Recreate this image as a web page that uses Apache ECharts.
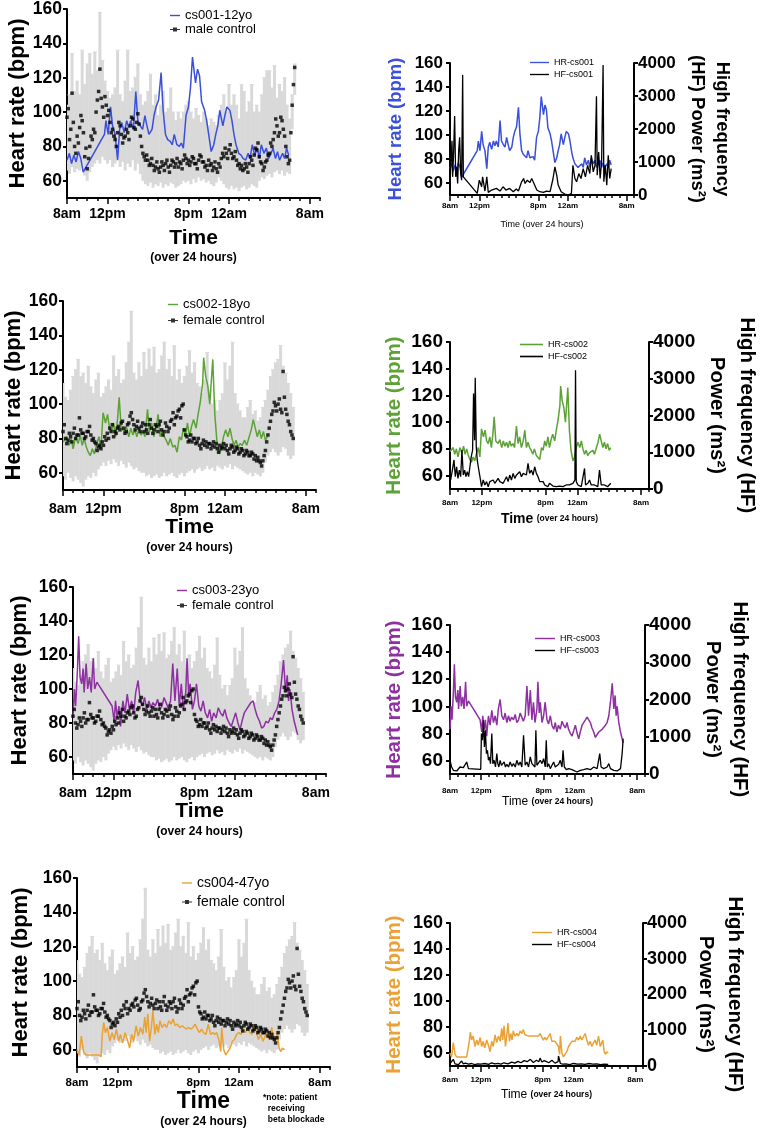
<!DOCTYPE html>
<html>
<head>
<meta charset="utf-8">
<script src="https://cdn.jsdelivr.net/npm/echarts@6/dist/echarts.min.js"></script>
<style>html,body{margin:0;padding:0;background:#fff}#chart{width:765px;height:1136px}</style>
</head>
<body>
<div id="chart"></div>
<script>
var FONT = 'Liberation Sans, Arial, sans-serif';

// axis ticks
var timeTicks = [0, 4, 12, 16, 24];
var timeTickLabels = ['8am', '12pm', '8pm', '12am', '8am'];
var hrTicks = [60, 80, 100, 120, 140, 160];
var meanStep = 0.125; // hours between control means, from 8am
var barStep = 0.25;   // hours between control error bars, from 8am

// male control mean, bpm
var maleMean = [
  97, 102, 84, 90, 111, 94, 80, 76,
  86, 82, 91, 98, 95, 88, 74, 79,
  67, 73, 80, 86, 84, 90, 88, 100,
  107, 112, 125, 108, 103, 97, 109, 104,
  98, 101, 94, 88, 90, 86, 84, 80,
  88, 94, 92, 87, 82, 85, 86, 90,
  88, 84, 92, 97, 96, 91, 90, 94,
  99, 93, 86, 80, 76, 74, 72, 75,
  72, 69, 70, 73, 69, 66, 68, 71,
  67, 65, 68, 71, 69, 66, 70, 72,
  68, 65, 69, 72, 71, 68, 70, 73,
  68, 71, 70, 67, 72, 75, 73, 70,
  72, 69, 71, 74, 73, 70, 70, 67,
  72, 75, 74, 71, 71, 68, 69, 66,
  72, 69, 70, 66, 68, 71, 67, 65,
  70, 68, 73, 76, 74, 79, 76, 73,
  78, 81, 76, 73, 74, 77, 72, 69,
  70, 67, 69, 66, 67, 70, 68, 65,
  70, 74, 72, 69, 75, 79, 78, 82,
  74, 71, 70, 66, 68, 71, 72, 75,
  76, 82, 80, 84, 88, 96, 92, 86,
  88, 97, 95, 90, 86, 80, 74, 70,
  72, 88, 104, 116, 126
];
// male control error bar low / high, bpm
var maleLow = [
  66, 64, 68, 65, 67, 66, 70, 63,
  60, 65, 68, 70, 72, 70, 74, 72,
  70, 72, 68, 70, 73, 68, 71, 66,
  70, 68, 72, 66, 70, 64, 60, 58,
  57, 59, 56, 58, 57, 59, 56, 58,
  57, 59, 58, 56, 57, 58, 60, 59,
  60, 58, 61, 59, 62, 60, 61, 59,
  60, 58, 57, 59, 62, 60, 58, 56,
  55, 57, 55, 56, 54, 56, 57, 55,
  56, 58, 57, 56, 60, 62, 61, 63,
  64, 62, 65, 66, 64, 66, 63, 65,
  64, 90, 110
];
var maleHigh = [
  104, 110, 134, 112, 118, 110, 136, 116,
  128, 134, 122, 135, 124, 158, 130, 118,
  112, 108, 110, 114, 136, 110, 106, 118,
  136, 112, 114, 120, 128, 110, 104, 106,
  112, 122, 104, 110, 98, 104, 112, 100,
  102, 114, 100, 95, 100, 96, 100, 104,
  106, 100, 96, 102, 98, 94, 100, 96,
  92, 96, 94, 92, 98, 104, 110, 100,
  116, 104, 110, 104, 96, 116, 112, 100,
  106, 116, 100, 104, 100, 110, 120, 124,
  124, 114, 127, 108, 116, 112, 120, 104,
  96, 110, 128
];

// female control mean, bpm
var femaleMean = [
  84, 88, 80, 77, 79, 83, 81, 78,
  83, 86, 80, 82, 82, 92, 85, 83,
  83, 80, 81, 84, 84, 87, 82, 79,
  80, 78, 77, 73, 75, 76, 74, 78,
  76, 81, 79, 83, 80, 86, 84, 88,
  81, 84, 83, 86, 87, 85, 89, 90,
  86, 83, 84, 88, 89, 93, 95, 91,
  88, 85, 87, 90, 86, 84, 87, 89,
  84, 88, 85, 83, 88, 91, 86, 83,
  85, 88, 87, 84, 88, 90, 85, 82,
  84, 89, 87, 84, 86, 90, 91, 95,
  88, 92, 93, 96, 97, 92, 99, 100,
  85, 82, 81, 78, 79, 82, 78, 80,
  80, 77, 78, 80, 76, 74, 77, 79,
  76, 78, 75, 77, 77, 74, 76, 78,
  75, 77, 74, 72, 76, 74, 75, 77,
  74, 76, 73, 71, 74, 76, 75, 72,
  73, 75, 74, 71, 72, 74, 73, 70,
  71, 73, 72, 70, 70, 72, 71, 68,
  70, 67, 69, 67, 66, 64, 67, 70,
  73, 78, 82, 86, 90, 94, 96, 101,
  99, 96, 100, 103, 97, 95, 119, 104,
  97, 94, 90, 88, 84, 82, 80
];
// female control error bar low / high, bpm
var femaleLow = [
  58, 56, 60, 57, 55, 58, 56, 54,
  52, 56, 58, 57, 60, 58, 62, 64,
  66, 64, 67, 65, 68, 66, 64, 67,
  65, 63, 66, 64, 62, 63, 61, 60,
  60, 58, 59, 57, 58, 59, 57, 58,
  60, 58, 59, 60, 58, 57, 59, 60,
  58, 60, 61, 62, 60, 62, 63, 61,
  62, 64, 62, 63, 61, 64, 63, 62,
  64, 63, 65, 62, 64, 63, 62, 61,
  60, 59, 60, 58, 60, 59, 58, 60,
  66, 70, 72, 74, 72, 70, 72, 75,
  74, 70, 68, 70
];
var femaleHigh = [
  112, 104, 102, 108, 116, 120, 126, 116,
  118, 112, 122, 110, 106, 114, 118, 104,
  106, 110, 114, 108, 128, 116, 120, 112,
  114, 124, 136, 154, 118, 114, 124, 116,
  130, 120, 132, 122, 133, 118, 120, 128,
  136, 120, 126, 116, 134, 114, 120, 112,
  116, 122, 131, 118, 124, 112, 110, 106,
  114, 130, 108, 100, 102, 96, 102, 106,
  124, 114, 122, 136, 106, 100, 96, 92,
  92, 98, 102, 94, 96, 90, 92, 98,
  102, 108, 116, 120, 124, 126, 134, 122,
  118, 112, 106, 98
];

// patients: heart rate [hours from 8am, bpm]
var hr001 = [[0,72],[0.23,76],[0.45,70],[0.68,75],[0.9,71],[1.13,77],[1.36,73],[1.6,65],
  [3.7,87],[3.85,95],[4.07,87],[4.3,103],[4.5,92],[4.75,87],[5.0,72],[5.2,90],[5.4,94],[5.66,88],[5.9,95],[6.1,91],[6.3,95],[6.56,90],[6.8,112],[7.0,95],[7.24,92],[7.47,90],[7.7,98],[7.9,92],[8.1,87],[8.4,90],[8.6,98],[8.8,103],[9.05,107],[9.3,123],[9.5,101],[9.73,87],[9.95,84],[10.2,83],[10.4,81],[10.6,87],[10.86,81],[11.1,80],[11.3,82],[11.5,79],[11.76,98],[12.0,103],[12.2,114],[12.4,132],[12.7,117],[12.9,125],[13.1,121],[13.3,106],[13.6,101],[13.8,95],[14.0,87],[14.25,77],[14.5,81],[14.7,87],[14.9,92],[15.1,101],[15.4,92],[15.6,98],[15.8,103],[16.1,101],[16.3,95],[16.5,87],[16.7,81],[16.97,76],[17.2,75],[17.4,73],[17.65,72],[17.9,76],[18.1,73],[18.3,81],[18.55,75],[18.8,79],[19.0,73],[19.2,81],[19.46,76],[19.7,79],[19.9,73],[20.1,75],[20.36,79],[20.6,73],[20.8,77],[21.0,72],[21.3,76],[21.5,73],[21.7,79],[21.9,75]];
var hr002 = [[0,78],[0.2,79],[0.4,81],[0.6,76],[0.8,80],[1.0,74],[1.25,81],[1.5,77],[1.7,82],[1.9,76],[2.1,80],[2.3,75],[2.5,72],[2.7,70],[2.9,74],[3.1,71],[3.3,76],[3.55,81],[3.75,74],[3.96,95],[4.2,89],[4.4,94],[4.6,86],[4.8,84],[5.0,89],[5.2,81],[5.4,92],[5.55,104],[5.75,86],[6.05,84],[6.26,87],[6.5,81],[6.7,86],[6.9,82],[7.1,85],[7.3,81],[7.5,86],[7.7,82],[7.9,84],[8.1,81],[8.35,97],[8.55,84],[8.75,89],[8.97,81],[9.2,86],[9.4,94],[9.6,81],[9.8,85],[10.0,81],[10.2,79],[10.4,76],[10.6,80],[10.85,75],[11.06,76],[11.27,72],[11.5,81],[11.7,79],[11.9,86],[12.1,82],[12.3,89],[12.5,81],[12.7,87],[12.9,91],[13.15,86],[13.35,94],[13.56,101],[13.8,112],[13.9,127],[14.1,116],[14.3,111],[14.5,100],[14.8,126],[15.0,94],[15.2,79],[15.45,71],[15.65,74],[15.86,81],[16.07,85],[16.3,81],[16.5,86],[16.7,80],[16.9,76],[17.1,79],[17.3,75],[17.5,77],[17.7,76],[17.95,79],[18.15,76],[18.4,81],[18.6,85],[18.8,91],[19.0,86],[19.2,81],[19.4,85],[19.6,80],[19.8,84],[20.0,79],[20.2,81]];
var hr003 = [[0,83],[0.13,100],[0.26,90],[0.43,110],[0.56,131],[0.7,107],[0.86,103],[1.0,112],[1.1,98],[1.3,115],[1.45,100],[1.63,107],[1.8,98],[2.0,118],[2.14,100],[2.36,104],[3.86,90],[4.07,81],[4.2,93],[4.37,83],[4.54,90],[4.7,78],[4.93,93],[5.14,86],[5.36,97],[5.57,88],[5.79,93],[6.0,86],[6.2,98],[6.43,105],[6.64,93],[6.86,90],[7.07,95],[7.29,88],[7.5,93],[7.7,89],[7.9,92],[8.14,90],[8.36,94],[8.57,88],[8.79,90],[9.0,95],[9.2,92],[9.4,89],[9.64,93],[9.86,115],[10.07,93],[10.3,112],[10.5,90],[10.7,103],[10.9,88],[11.14,98],[11.27,118],[11.44,95],[11.57,103],[11.8,88],[12.0,93],[12.2,103],[12.43,90],[12.64,87],[12.86,93],[13.07,86],[13.3,83],[13.5,88],[13.7,81],[13.9,86],[14.14,83],[14.36,89],[14.57,86],[14.8,84],[15.0,88],[15.2,83],[15.43,80],[15.64,78],[15.86,82],[16.07,86],[16.3,80],[16.5,76],[16.7,81],[16.93,86],[17.14,88],[17.36,90],[17.57,92],[17.8,93],[18.0,88],[18.2,84],[18.43,81],[18.64,77],[18.86,78],[19.07,81],[19.29,80],[19.5,83],[19.7,82],[19.93,86],[20.14,88],[20.36,93],[20.57,103],[20.8,117],[20.9,108],[21.0,98],[21.17,108],[21.3,93],[21.43,100],[21.64,88],[21.86,81],[22.07,76],[22.2,73]];
var hr004 = [[0,60],[0.2,57],[0.43,68],[0.65,59],[0.86,57],[1.3,57],[1.73,57],[2.16,57],[2.38,56],[2.5,69],[2.64,76],[2.8,70],[3.0,73],[3.24,65],[3.46,70],[3.67,66],[3.9,72],[4.1,65],[4.3,69],[4.5,64],[4.76,70],[4.97,66],[5.2,61],[5.4,69],[5.6,65],[5.84,74],[6.05,68],[6.27,73],[6.5,69],[6.7,79],[6.83,70],[7.0,81],[7.18,65],[7.35,73],[7.5,83],[7.7,69],[7.87,75],[8.04,70],[8.2,77],[8.4,73],[8.65,75],[8.86,73],[9.08,77],[9.3,75],[9.5,78],[9.7,74],[9.9,75],[10.16,73],[10.4,74],[10.6,73],[10.8,72],[11.0,73],[11.24,72],[11.46,73],[11.67,75],[11.9,72],[12.1,70],[12.3,72],[12.5,70],[12.75,69],[12.97,75],[13.2,69],[13.4,70],[13.6,69],[13.8,70],[14.05,65],[14.2,59],[14.3,73],[14.5,60],[14.7,57],[14.9,59],[15.13,61],[15.35,65],[15.56,66],[15.78,69],[16.0,70],[16.2,69],[16.43,72],[16.65,70],[16.86,73],[17.08,70],[17.3,69],[17.5,75],[17.73,70],[17.94,66],[18.16,69],[18.37,65],[18.6,68],[18.8,70],[19.0,66],[19.24,73],[19.46,65],[19.67,66],[19.8,70],[19.97,61],[20.15,59],[20.3,61],[20.5,60]];

// patients: high frequency power [hours from 8am, ms2]
var hf001 = [[0,350],[0.14,1050],[0.27,1645],[0.36,550],[0.5,1350],[0.63,2390],[0.77,550],[0.9,850],[1.04,350],[1.18,1350],[1.31,1750],[1.45,650],[1.58,450],[1.72,3640],[1.81,550],[3.7,50],[3.98,450],[4.3,250],[4.43,550],[4.75,120],[5.0,550],[5.2,80],[5.66,150],[5.9,100],[6.3,200],[6.8,120],[7.2,250],[7.6,150],[8.1,200],[8.6,100],[9.0,180],[9.3,120],[9.73,400],[10.0,500],[10.2,350],[10.5,450],[10.86,380],[11.1,500],[11.5,300],[11.8,150],[12.2,100],[12.7,80],[13.1,120],[13.6,100],[14.0,500],[14.25,850],[14.5,600],[14.7,300],[15.1,100],[15.6,30],[16.1,0],[16.5,50],[16.7,900],[16.97,500],[17.2,400],[17.5,650],[17.8,500],[18.1,800],[18.4,550],[18.7,900],[19.0,650],[19.2,1200],[19.46,700],[19.7,900],[19.9,2990],[20.0,600],[20.2,1300],[20.4,500],[20.6,1000],[20.8,3940],[20.9,400],[21.1,900],[21.3,300],[21.5,1200],[21.7,500],[21.9,800]];
var hf002 = [[0.08,245],[0.3,515],[0.5,790],[0.67,335],[0.83,605],[1.0,290],[1.17,515],[1.34,335],[1.5,1060],[1.67,380],[1.84,515],[2.0,335],[2.17,470],[2.34,335],[2.5,605],[2.67,880],[2.84,1060],[2.96,2600],[3.09,1330],[3.17,3030],[3.3,1150],[3.42,790],[3.55,605],[3.76,335],[3.96,63],[4.17,245],[4.38,110],[4.59,200],[4.8,63],[5.0,200],[5.22,155],[5.43,245],[5.63,155],[5.84,200],[6.05,290],[6.26,200],[6.47,245],[6.68,155],[6.89,245],[7.1,335],[7.3,200],[7.5,380],[7.72,245],[7.93,425],[8.14,290],[8.35,380],[8.56,335],[8.76,470],[8.97,335],[9.2,425],[9.4,470],[9.6,380],[9.8,700],[10.0,425],[10.23,515],[10.43,380],[10.64,605],[10.85,425],[11.06,335],[11.27,200],[11.48,155],[11.7,200],[11.9,110],[12.1,155],[12.3,63],[12.5,155],[12.73,110],[12.94,80],[13.35,63],[13.77,80],[14.19,63],[14.6,110],[15.0,110],[15.44,155],[15.69,245],[15.77,3230],[15.86,200],[16.07,110],[16.28,80],[16.49,63],[16.7,110],[16.9,560],[17.03,110],[17.32,155],[17.53,245],[17.74,110],[17.95,63],[18.15,110],[18.36,155],[18.57,63],[18.78,515],[19.0,110],[19.2,80],[19.4,110],[19.6,155],[19.8,63],[20.0,110],[20.2,155]];
var hf003 = [[0,368],[0.21,188],[0.43,99],[0.64,54],[0.86,81],[1.07,117],[1.29,188],[1.5,144],[1.71,170],[1.93,206],[2.14,323],[2.36,144],[3.94,125],[4.03,1085],[4.16,906],[4.29,1444],[4.41,726],[4.54,1175],[4.67,547],[4.8,637],[4.93,368],[5.06,457],[5.19,278],[5.36,1085],[5.49,278],[5.66,368],[5.83,188],[6.0,547],[6.13,278],[6.26,188],[6.43,368],[6.6,233],[6.77,188],[6.94,323],[7.11,188],[7.29,260],[7.5,188],[7.71,323],[7.93,206],[8.14,278],[8.36,188],[8.57,368],[8.79,233],[9.0,323],[9.21,188],[9.43,1040],[9.64,233],[9.86,323],[10.07,188],[10.29,457],[10.5,278],[10.71,233],[10.89,188],[11.01,1175],[11.14,233],[11.36,188],[11.57,368],[11.79,278],[12.0,413],[12.21,188],[12.34,906],[12.47,188],[12.64,278],[12.86,144],[13.07,233],[13.29,323],[13.5,188],[13.71,144],[13.93,260],[14.14,368],[14.36,188],[14.49,637],[14.66,188],[14.92,117],[15.21,144],[15.43,99],[15.64,117],[15.86,81],[16.29,54],[16.71,99],[17.14,117],[17.57,144],[18.0,117],[18.43,188],[18.86,144],[19.2,547],[19.37,188],[19.71,144],[20.14,188],[20.36,278],[20.57,144],[21.0,99],[21.43,81],[21.64,54],[21.86,144],[22.07,547],[22.2,950]];
var hf004 = [[0,70],[0.2,50],[0.43,186],[0.65,60],[0.86,80],[1.1,40],[1.5,140],[1.73,60],[2.0,80],[2.4,50],[2.8,70],[3.2,40],[3.6,60],[4.0,50],[4.5,70],[5.0,45],[5.4,90],[5.8,60],[6.2,75],[6.6,50],[7.0,90],[7.5,60],[8.0,110],[8.4,80],[8.8,130],[9.2,90],[9.6,150],[10.0,120],[10.4,186],[10.8,100],[11.2,160],[11.5,120],[11.67,220],[11.9,110],[12.2,150],[12.5,120],[12.8,90],[13.2,160],[13.6,80],[14.0,120],[14.05,279],[14.3,70],[14.6,50],[15.0,60],[15.5,40],[16.0,70],[16.5,50],[17.0,60],[17.5,45],[18.0,70],[18.5,50],[19.0,60],[19.5,40],[20.0,55],[20.5,45]];

var panels = [
  {id: 'cs001', label: 'cs001-12yo', ctrl: 'male control', hr: hr001, hf: hf001, mean: maleMean, low: maleLow, high: maleHigh},
  {id: 'cs002', label: 'cs002-18yo', ctrl: 'female control', hr: hr002, hf: hf002, mean: femaleMean, low: femaleLow, high: femaleHigh},
  {id: 'cs003', label: 'cs003-23yo', ctrl: 'female control', hr: hr003, hf: hf003, mean: femaleMean, low: femaleLow, high: femaleHigh},
  {id: 'cs004', label: 'cs004-47yo', ctrl: 'female control', hr: hr004, hf: hf004, mean: femaleMean, low: femaleLow, high: femaleHigh}
];
var colors = ['#3a4fdc', '#5da236', '#8e30a2', '#eaa236'];

var leftLayout = [
  {grid: {left: 67, top: 9, width: 253, height: 189}, yGap: 36, xGap: 28, xTick: 14, xMargin: 9, timeSize: 21, lg: {left: 170, top: 9, gap: 1, font: 13}},
  {grid: {left: 63, top: 301, width: 253, height: 189}, yGap: 33, xGap: 25, xTick: 14, xMargin: 12, timeSize: 21, lg: {left: 168, top: 298, gap: 3, font: 13}},
  {grid: {left: 73, top: 587, width: 253, height: 187}, yGap: 42, xGap: 23, xTick: 14, xMargin: 12, timeSize: 21, lg: {left: 177, top: 584, gap: 2, font: 13}},
  {grid: {left: 77, top: 878, width: 253, height: 189}, yGap: 45, xGap: 23, xTick: 11.5, xMargin: 10, timeSize: 23, lg: {left: 182, top: 876, gap: 5, font: 14}}
];
var rightLayout = [
  {grid: {left: 450, top: 63, width: 184, height: 132}, tick: 17, nameSize: 18.5, hfName: 'High frequency\n(HF) Power (ms\u00b2)', hfGap: 51, hfLine: 25, xMargin: 7, xGap: 22, timeBold: false, timeSize: 9, lg: {left: 530, top: 58, w: 19}},
  {grid: {left: 450, top: 342, width: 199, height: 147}, tick: 19, nameSize: 20.5, hfName: 'High frequency (HF)\nPower (ms\u00b2)', hfGap: 53, hfLine: 30, xMargin: 10, xGap: 22, timeBold: true, timeSize: 14, lg: {left: 520, top: 340, w: 23}},
  {grid: {left: 450, top: 625, width: 195, height: 149}, tick: 19, nameSize: 20.5, hfName: 'High frequency (HF)\nPower (ms\u00b2)', hfGap: 54, hfLine: 27, xMargin: 13, xGap: 19, timeBold: false, timeSize: 12, lg: {left: 535, top: 634, w: 20}},
  {grid: {left: 450, top: 923, width: 193, height: 143}, tick: 18, nameSize: 20.5, hfName: 'High frequency (HF)\nPower (ms\u00b2)', hfGap: 42, hfLine: 29, xMargin: 10, xGap: 21, timeBold: false, timeSize: 12, lg: {left: 532, top: 928, w: 20}}
];

var ctrlIcon = 'path://M0,3H10V4H0Z M3,1.5H7V5.5H3Z';
var lineIconShort = 'path://M0,0H10V1.4H0Z';
var lineIconLong = 'path://M0,0H20V1.4H0Z';

function ctrlPoints(mean) {
  return mean.map(function (v, i) { return [i * meanStep, v]; });
}
function ctrlBars(low, high) {
  return low.map(function (v, i) { return [i * barStep, v, high[i]]; });
}

function errorBar(params, api) {
  var lo = api.coord([api.value(0), api.value(1)]);
  var hi = api.coord([api.value(0), api.value(2)]);
  return {
    type: 'group',
    children: [
      {type: 'line', shape: {x1: lo[0], y1: lo[1], x2: hi[0], y2: hi[1]}, style: {stroke: '#d9d9d9', lineWidth: 3}},
      {type: 'line', shape: {x1: hi[0] - 2, y1: hi[1], x2: hi[0] + 2, y2: hi[1]}, style: {stroke: '#d9d9d9', lineWidth: 1}}
    ]
  };
}

function timeAxes(gi, tickSize, margin, name, nameGap, rich) {
  return [{
    type: 'value', gridIndex: gi, position: 'bottom', min: 0, max: 25, interval: 1,
    axisLine: {onZero: false, lineStyle: {color: '#000', width: 2}},
    axisTick: {length: 3, lineStyle: {color: '#000', width: 1.5}},
    splitLine: {show: false},
    axisLabel: {
      customValues: timeTicks,
      formatter: function (v) { return timeTickLabels[timeTicks.indexOf(v)]; },
      fontFamily: FONT, fontSize: tickSize, fontWeight: 'bold', color: '#000', margin: margin
    },
    name: name, nameLocation: 'middle', nameGap: nameGap,
    nameTextStyle: {fontFamily: FONT, color: '#000', rich: rich}
  }, {
    type: 'value', gridIndex: gi, position: 'bottom', min: 0, max: 25, interval: 1,
    axisLine: {show: false, onZero: false}, axisLabel: {show: false}, splitLine: {show: false},
    axisTick: {customValues: timeTicks, length: 6, lineStyle: {color: '#000', width: 1.5}}
  }];
}

function hrAxis(gi, tickSize, nameSize, nameGap, nameColor, margin) {
  return {
    type: 'value', gridIndex: gi, position: 'left', min: 50, max: 160,
    axisLine: {show: true, onZero: false, lineStyle: {color: '#000', width: 2}},
    axisTick: {show: true, customValues: hrTicks, length: 4, lineStyle: {color: '#000', width: 2}},
    axisLabel: {customValues: hrTicks, fontFamily: FONT, fontSize: tickSize, fontWeight: 'bold', color: '#000', margin: margin},
    splitLine: {show: false},
    name: 'Heart rate (bpm)', nameLocation: 'middle', nameGap: nameGap,
    nameTextStyle: {fontFamily: FONT, fontSize: nameSize, fontWeight: 'bold', color: nameColor}
  };
}

var grids = [], xAxes = [], yAxes = [], series = [], legends = [];

panels.forEach(function (p, k) {
  var L = leftLayout[k];
  var g = grids.length;
  grids.push(L.grid);
  var xi = xAxes.length;
  xAxes = xAxes.concat(timeAxes(g, L.xTick, L.xMargin, '{t|Time}\n{s|(over 24 hours)}', L.xGap, {
    t: {fontFamily: FONT, fontSize: L.timeSize, fontWeight: 'bold', lineHeight: 24, color: '#000'},
    s: {fontFamily: FONT, fontSize: 12, fontWeight: 'bold', lineHeight: 16, color: '#000'}
  }));
  var yi = yAxes.length;
  yAxes.push(hrAxis(g, 17.5, 22, L.yGap, '#000', 5));

  series.push({
    type: 'custom', xAxisIndex: xi, yAxisIndex: yi, silent: true, z: 1, clip: true,
    encode: {x: 0, y: [1, 2]}, renderItem: errorBar, data: ctrlBars(p.low, p.high)
  });
  series.push({
    type: 'line', name: p.label, xAxisIndex: xi, yAxisIndex: yi, z: 3,
    symbol: 'none', showSymbol: false, data: p.hr,
    lineStyle: {color: colors[k], width: 1.5}, itemStyle: {color: colors[k]}
  });
  series.push({
    type: 'scatter', name: p.ctrl, xAxisIndex: xi, yAxisIndex: yi, z: 4,
    symbol: 'rect', symbolSize: 3.5, data: ctrlPoints(p.mean),
    itemStyle: {color: '#000'}
  });

  legends.push({
    left: L.lg.left, top: L.lg.top, orient: 'vertical', selectedMode: false, padding: 0,
    itemWidth: 10, itemHeight: 10, itemGap: L.lg.gap,
    textStyle: {fontFamily: FONT, fontSize: L.lg.font, color: '#000'},
    data: [{name: p.label, icon: lineIconShort}, {name: p.ctrl, icon: ctrlIcon}]
  });
});

panels.forEach(function (p, k) {
  var R = rightLayout[k];
  var g = grids.length;
  grids.push(R.grid);
  var xi = xAxes.length;
  var timeName = k > 0 ? '{t|Time} {s|(over 24 hours)}' : '{s|Time (over 24 hours)}';
  xAxes = xAxes.concat(timeAxes(g, 8, R.xMargin, timeName, R.xGap, {
    t: {fontFamily: FONT, fontSize: R.timeSize, fontWeight: R.timeBold ? 'bold' : 'normal', lineHeight: 16, color: '#000'},
    s: {fontFamily: FONT, fontSize: k === 0 ? 9 : 8.5, fontWeight: k === 0 ? 'normal' : 'bold', lineHeight: 16, color: '#000'}
  }));
  var yi = yAxes.length;
  yAxes.push(hrAxis(g, R.tick, R.nameSize, 45, colors[k], 7));
  var yf = yAxes.length;
  yAxes.push({
    type: 'value', gridIndex: g, position: 'right', min: 0, max: 4000, interval: 1000,
    axisLine: {show: true, onZero: false, lineStyle: {color: '#000', width: 2}},
    axisTick: {show: true, length: 4, lineStyle: {color: '#000', width: 2}},
    axisLabel: {
      formatter: function (v) { return String(v); },
      fontFamily: FONT, fontSize: R.tick, fontWeight: 'bold', color: '#000', margin: 4
    },
    splitLine: {show: false},
    name: R.hfName, nameLocation: 'middle', nameGap: R.hfGap, nameRotate: -90,
    nameTextStyle: {fontFamily: FONT, fontSize: R.nameSize, fontWeight: 'bold', color: '#000', lineHeight: R.hfLine, align: 'center'}
  });

  series.push({
    type: 'line', name: 'HR-' + p.id, xAxisIndex: xi, yAxisIndex: yi, z: 3,
    symbol: 'none', showSymbol: false, data: p.hr,
    lineStyle: {color: colors[k], width: 1.5}, itemStyle: {color: colors[k]}
  });
  series.push({
    type: 'line', name: 'HF-' + p.id, xAxisIndex: xi, yAxisIndex: yf, z: 4,
    symbol: 'none', showSymbol: false, data: p.hf,
    lineStyle: {color: '#000', width: 1.3}, itemStyle: {color: '#000'}
  });

  legends.push({
    left: R.lg.left, top: R.lg.top, orient: 'vertical', selectedMode: false, padding: 0,
    itemWidth: R.lg.w, itemHeight: 8, itemGap: 3,
    textStyle: {fontFamily: FONT, fontSize: 9, color: '#000'},
    data: [{name: 'HR-' + p.id, icon: lineIconLong}, {name: 'HF-' + p.id, icon: lineIconLong}]
  });
});

var chart = echarts.init(document.getElementById('chart'));
chart.setOption({
  backgroundColor: '#fff',
  animation: false,
  grid: grids,
  xAxis: xAxes,
  yAxis: yAxes,
  legend: legends,
  series: series,
  graphic: [{
    type: 'text', left: 263, top: 1092,
    style: {text: '*note: patient\n  receiving\n  beta blockade', font: 'bold 8.5px ' + FONT, lineHeight: 11, fill: '#000'}
  }]
});
</script>
</body>
</html>
